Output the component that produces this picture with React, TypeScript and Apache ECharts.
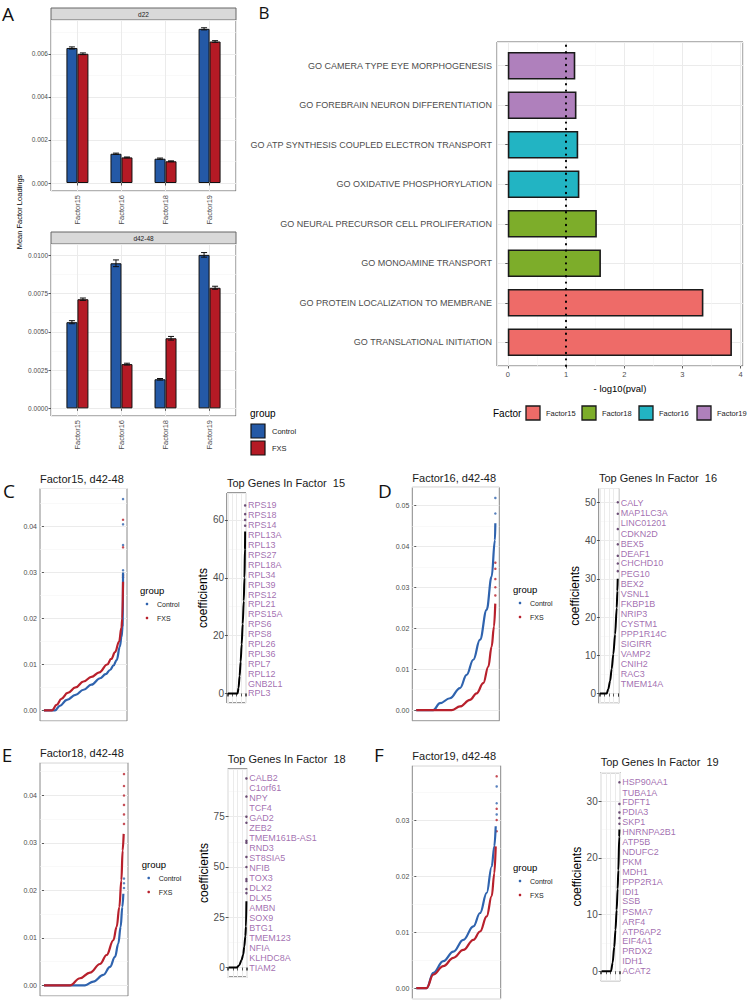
import React, { useEffect, useRef } from 'react';
import * as echarts from 'echarts';

// ---------------- Panel A data ----------------
const factorNames = ['Factor15', 'Factor16', 'Factor18', 'Factor19'];
const d22Control = [0.00628, 0.00136, 0.00113, 0.00717];
const d22ControlSe = [0.00005, 0.00003, 0.00003, 0.00005];
const d22Fxs = [0.00601, 0.00119, 0.00101, 0.00658];
const d22FxsSe = [0.00004, 0.00002, 0.00002, 0.00004];
const d42Control = [0.00563, 0.00948, 0.0019, 0.01003];
const d42ControlSe = [0.0001, 0.00022, 0.00005, 0.00015];
const d42Fxs = [0.00713, 0.00289, 0.00458, 0.00788];
const d42FxsSe = [0.00008, 0.00006, 0.00012, 0.0001];

// ---------------- Panel B data ----------------
const goTerms = [
  'GO CAMERA TYPE EYE MORPHOGENESIS',
  'GO FOREBRAIN NEURON DIFFERENTIATION',
  'GO ATP SYNTHESIS COUPLED ELECTRON TRANSPORT',
  'GO OXIDATIVE PHOSPHORYLATION',
  'GO NEURAL PRECURSOR CELL PROLIFERATION',
  'GO MONOAMINE TRANSPORT',
  'GO PROTEIN LOCALIZATION TO MEMBRANE',
  'GO TRANSLATIONAL INITIATION',
];
const goLog10P = [1.16, 1.18, 1.21, 1.23, 1.53, 1.6, 3.36, 3.85];
const goFactor = ['Factor19', 'Factor19', 'Factor16', 'Factor16', 'Factor18', 'Factor18', 'Factor15', 'Factor15'];
const factorLegendOrder = ['Factor15', 'Factor18', 'Factor16', 'Factor19'];
const pvalThreshold = 1;

// ---------------- Panels C-F: sorted loadings (rank fraction, loading) ----------------
const f15Control = [[0, 0], [0.14, 0], [0.2, 0.001], [0.29, 0.0023], [0.4, 0.0034], [0.5, 0.0045], [0.6, 0.0056], [0.71, 0.007], [0.78, 0.0079], [0.835, 0.0088], [0.88, 0.0098], [0.92, 0.011], [0.96, 0.0139], [0.98, 0.016], [0.995, 0.0183], [1, 0.03]];
const f15ControlTop = [[1, 0.0305], [1, 0.036], [1, 0.0405], [1, 0.046]];
const f15Fxs = [[0, 0], [0.1, 0], [0.16, 0.0012], [0.22, 0.0025], [0.3, 0.0038], [0.4, 0.005], [0.5, 0.0063], [0.6, 0.0073], [0.7, 0.0083], [0.8, 0.01], [0.85, 0.0112], [0.9, 0.0127], [0.95, 0.015], [0.98, 0.018], [0.99, 0.02], [1, 0.028]];
const f15FxsTop = [[1, 0.029], [1, 0.0295], [1, 0.0355], [1, 0.0415]];

const f16Control = [[0, 0], [0.215, 0], [0.3, 0.0017], [0.426, 0.0029], [0.553, 0.0054], [0.637, 0.0086], [0.721, 0.0123], [0.806, 0.0172], [0.89, 0.0245], [0.953, 0.0326], [0.995, 0.0415], [1, 0.0456]];
const f16ControlTop = [[1, 0.048], [1, 0.0518]];
const f16Fxs = [[0, 0], [0.447, 0], [0.553, 0.0009], [0.679, 0.0025], [0.763, 0.0041], [0.848, 0.0066], [0.911, 0.0106], [0.953, 0.0155], [0.983, 0.0204], [0.999, 0.026]];
const f16FxsTop = [[1, 0.028], [1, 0.03], [1, 0.032], [1, 0.0345], [1, 0.036]];

const f18Control = [[0, 0], [0.5125, 0], [0.617, 0.0008], [0.742, 0.0022], [0.825, 0.0039], [0.8875, 0.006], [0.929, 0.0088], [0.958, 0.0123], [0.979, 0.0165], [0.992, 0.0193]];
const f18ControlTop = [[1, 0.0205], [1, 0.0215], [1, 0.0225]];
const f18Fxs = [[0, 0], [0.325, 0], [0.45, 0.0015], [0.575, 0.0027], [0.7, 0.0045], [0.783, 0.0064], [0.867, 0.0095], [0.908, 0.0123], [0.942, 0.0165], [0.967, 0.0221], [0.983, 0.0284], [0.996, 0.0319]];
const f18FxsTop = [[1, 0.034], [1, 0.036], [1, 0.038], [1, 0.04], [1, 0.042], [1, 0.0445]];

const f19Control = [[0, 0], [0.128, 0], [0.211, 0.0027], [0.336, 0.0048], [0.461, 0.0065], [0.585, 0.0086], [0.71, 0.011], [0.793, 0.0134], [0.876, 0.017], [0.938, 0.0217], [0.971, 0.0253], [0.988, 0.0289]];
const f19ControlTop = [[1, 0.031], [1, 0.033], [1, 0.036]];
const f19Fxs = [[0, 0], [0.128, 0], [0.211, 0.0024], [0.336, 0.0039], [0.461, 0.0054], [0.585, 0.0068], [0.71, 0.0086], [0.793, 0.0101], [0.876, 0.0128], [0.938, 0.0164], [0.971, 0.0205], [0.988, 0.0253]];
const f19FxsTop = [[1, 0.028], [1, 0.03], [1, 0.032], [1, 0.0378]];

// ---------------- Top-gene coefficient curves ----------------
const coef15Curve = [[0, 0], [0.56, 0], [0.62, 2], [0.68, 6], [0.74, 11], [0.8, 17], [0.86, 24], [0.92, 32], [0.96, 40], [0.99, 50], [1, 56]];
const coef15Top = [58, 60, 62, 65];
const coef16Curve = [[0, 0], [0.38, 0], [0.47, 1.2], [0.57, 3.3], [0.66, 6.5], [0.75, 10.3], [0.85, 15.5], [0.94, 22.4], [0.975, 26.8], [0.995, 30]];
const coef16Top = [32, 34, 36, 39, 43, 47, 50];
const coef18Curve = [[0, 0], [0.45, 0], [0.6, 1.2], [0.73, 3.8], [0.82, 6.5], [0.88, 10.4], [0.94, 15.5], [0.975, 20.4], [1, 33]];
const coef18Top = [37, 39, 43, 44, 50, 55, 62, 63, 72, 75, 85, 94];
const coef19Curve = [[0, 0], [0.53, 0], [0.62, 1.5], [0.71, 4.3], [0.78, 7.3], [0.845, 10.8], [0.9, 14.5], [0.94, 17.8], [0.99, 23.7], [1, 25]];
const coef19Top = [26, 27, 28, 29.5, 33.3];

const genes15 = ['RPS19', 'RPS18', 'RPS14', 'RPL13A', 'RPL13', 'RPS27', 'RPL18A', 'RPL34', 'RPL39', 'RPS12', 'RPL21', 'RPS15A', 'RPS6', 'RPS8', 'RPL26', 'RPL36', 'RPL7', 'RPL12', 'GNB2L1', 'RPL3'];
const genes15LabelY = [65.0, 61.6, 58.1, 54.7, 51.3, 47.9, 44.5, 41.0, 37.6, 34.2, 30.8, 27.4, 23.9, 20.5, 17.1, 13.7, 10.3, 6.8, 3.4, 0];
const genes16 = ['CALY', 'MAP1LC3A', 'LINC01201', 'CDKN2D', 'BEX5', 'DEAF1', 'CHCHD10', 'PEG10', 'BEX2', 'VSNL1', 'FKBP1B', 'NRIP3', 'CYSTM1', 'PPP1R14C', 'SIGIRR', 'VAMP2', 'CNIH2', 'RAC3', 'TMEM14A'];
const genes16LabelY = [49.7, 47.1, 44.5, 41.8, 39.2, 36.6, 34.0, 31.3, 28.7, 26.1, 23.5, 20.8, 18.2, 15.6, 13.0, 10.3, 7.7, 5.1, 2.5];
const genes18 = ['CALB2', 'C1orf61', 'NPY', 'TCF4', 'GAD2', 'ZEB2', 'TMEM161B-AS1', 'RND3', 'ST8SIA5', 'NFIB', 'TOX3', 'DLX2', 'DLX5', 'AMBN', 'SOX9', 'BTG1', 'TMEM123', 'NFIA', 'KLHDC8A', 'TIAM2'];
const genes18LabelY = [94.0, 89.1, 84.1, 79.2, 74.2, 69.3, 64.3, 59.4, 54.4, 49.5, 44.5, 39.6, 34.6, 29.7, 24.7, 19.8, 14.8, 9.9, 4.9, 0];
const genes19 = ['HSP90AA1', 'TUBA1A', 'FDFT1', 'PDIA3', 'SKP1', 'HNRNPA2B1', 'ATP5B', 'NDUFC2', 'PKM', 'MDH1', 'PPP2R1A', 'IDI1', 'SSB', 'PSMA7', 'ARF4', 'ATP6AP2', 'EIF4A1', 'PRDX2', 'IDH1', 'ACAT2'];
const genes19LabelY = [33.3, 31.5, 29.8, 28.0, 26.3, 24.5, 22.8, 21.0, 19.3, 17.5, 15.8, 14.0, 12.3, 10.5, 8.76, 7.0, 5.26, 3.5, 1.75, 0];

// ---------------- styles ----------------
const BLUE = '#2459A6';
const RED = '#B41A25';
const DOT_BLUE = '#2F63AE';
const DOT_RED = '#B8202C';
const GRID_MAJOR = '#EBEBEB';
const GRID_MINOR = '#F5F5F5';
const LABEL = '#4D4D4D';
const GENE = '#8B4A9C';
const FONT = 'Liberation Sans, Arial, sans-serif';
const LETTER_FONT = 'Open Sans, Liberation Sans, sans-serif';
const factorColors: Record<string, string> = {
  Factor15: '#EE6B68',
  Factor18: '#7DAD2A',
  Factor16: '#22B4C3',
  Factor19: '#AF80BC',
};

function buildOption() {
  const grid: any[] = [];
  const xAxis: any[] = [];
  const yAxis: any[] = [];
  const series: any[] = [];
  const graphic: any[] = [];

  const add = (g: any, x: any, y: any) => {
    const i = grid.length;
    grid.push(g);
    xAxis.push({ gridIndex: i, ...x });
    yAxis.push({ gridIndex: i, ...y });
    return i;
  };
  const text = (x: number, y: number, t: string, o: any = {}, extra: any = {}) =>
    graphic.push({
      type: 'text', x, y, silent: true, ...extra,
      style: { text: t, fontFamily: FONT, fontSize: 8, fill: '#1A1A1A', align: 'left', verticalAlign: 'middle', ...o },
    });
  const rect = (x: number, y: number, w: number, h: number, style: any) =>
    graphic.push({ type: 'rect', silent: true, shape: { x, y, width: w, height: h }, style });
  const circle = (x: number, y: number, r: number, fill: string) =>
    graphic.push({ type: 'circle', silent: true, shape: { cx: x, cy: y, r }, style: { fill } });

  const ticks = { show: true, length: 2.5, lineStyle: { color: '#333', width: 0.8 } };

  // ---------- Panel A ----------
  const errSeries = (gi: number, means: number[], ses: number[], offset: number) => ({
    type: 'custom', xAxisIndex: gi, yAxisIndex: gi, z: 4, silent: true,
    data: means.map((m, i) => [i, m - ses[i], m + ses[i]]),
    renderItem: (_p: any, api: any) => {
      const lo = api.coord([api.value(0), api.value(1)]);
      const hi = api.coord([api.value(0), api.value(2)]);
      const x = lo[0] + offset;
      const w = 3;
      const st = { stroke: '#111', lineWidth: 1 };
      return {
        type: 'group',
        children: [
          { type: 'line', shape: { x1: x, y1: lo[1], x2: x, y2: hi[1] }, style: st },
          { type: 'line', shape: { x1: x - w, y1: lo[1], x2: x + w, y2: lo[1] }, style: st },
          { type: 'line', shape: { x1: x - w, y1: hi[1], x2: x + w, y2: hi[1] }, style: st },
        ],
      };
    },
  });

  const barPanel = (top: number, height: number, yMin: number, yMax: number, interval: number, digits: number,
    ctrl: number[], ctrlSe: number[], fxs: number[], fxsSe: number[], strip: string) => {
    const left = 51, width = 185;
    const unit = width / 4.2;
    add(
      { left, top, width, height, show: true, borderColor: '#666', borderWidth: 1 },
      { type: 'value', min: 0.4, max: 4.6, minInterval: 1, maxInterval: 1, axisLabel: { show: false }, axisTick: { show: false }, axisLine: { show: false }, splitLine: { show: true, lineStyle: { color: GRID_MAJOR } } },
      {
        type: 'value', min: yMin, max: yMax, minInterval: interval, maxInterval: interval,
        axisLabel: { fontSize: 6.5, color: LABEL, fontFamily: FONT, margin: 3, showMinLabel: false, showMaxLabel: false, formatter: (v: number) => v.toFixed(digits) },
        axisTick: ticks, axisLine: { show: false },
        splitLine: { show: true, lineStyle: { color: GRID_MAJOR } },
        minorTick: { show: false, splitNumber: 2 }, minorSplitLine: { show: true, lineStyle: { color: GRID_MINOR, width: 0.6 } },
      }
    );
    const bi = add(
      { left: left + 0.1 * unit, top, width: 4 * unit, height },
      { type: 'category', data: factorNames, axisLabel: { rotate: 90, fontSize: 7.5, color: LABEL, fontFamily: FONT, margin: 4 }, axisTick: { ...ticks, alignWithLabel: true }, axisLine: { show: false }, splitLine: { show: false } },
      { type: 'value', min: yMin, max: yMax, show: false }
    );
    series.push(
      { type: 'bar', name: 'Control', xAxisIndex: bi, yAxisIndex: bi, data: ctrl, barWidth: 11, barGap: '0%', itemStyle: { color: BLUE, borderColor: '#111', borderWidth: 1 } },
      { type: 'bar', name: 'FXS', xAxisIndex: bi, yAxisIndex: bi, data: fxs, barWidth: 11, barGap: '0%', itemStyle: { color: RED, borderColor: '#111', borderWidth: 1 } },
      errSeries(bi, ctrl, ctrlSe, -5.5),
      errSeries(bi, fxs, fxsSe, 5.5)
    );
    rect(left, top - 12, width, 12, { fill: '#D9D9D9', stroke: '#666', lineWidth: 1 });
    text(left + width / 2, top - 6, strip, { fontSize: 6.5, align: 'center', fill: '#1A1A1A' });
  };

  barPanel(20, 171, -0.000372, 0.007581, 0.002, 3, d22Control, d22ControlSe, d22Fxs, d22FxsSe, 'd22');
  barPanel(244, 172, -0.0005, 0.01074, 0.0025, 4, d42Control, d42ControlSe, d42Fxs, d42FxsSe, 'd42-48');
  text(19, 212, 'Mean Factor Loadings', { fontSize: 7.5, align: 'center', fill: '#000' }, { rotation: Math.PI / 2 });

  // group legend (panel A)
  text(250, 413, 'group', { fontSize: 10, fill: '#000' });
  rect(251, 424, 14, 14, { fill: BLUE, stroke: '#111', lineWidth: 1.2 });
  rect(251, 441, 14, 14, { fill: RED, stroke: '#111', lineWidth: 1.2 });
  text(272, 431, 'Control', { fontSize: 7.5 });
  text(272, 448, 'FXS', { fontSize: 7.5 });

  // ---------- Panel B ----------
  const bLeft = 497, bTop = 42, bW = 246, bH = 324;
  const band = bH / 8.2;
  const bf = add(
    { left: bLeft, top: bTop, width: bW, height: bH, show: true, borderColor: '#666', borderWidth: 1 },
    {
      type: 'value', min: -0.185, max: 4.04, minInterval: 1, maxInterval: 1,
      axisLabel: { fontSize: 7.5, color: LABEL, fontFamily: FONT, margin: 4, showMinLabel: false, showMaxLabel: false },
      axisTick: ticks, axisLine: { show: false },
      splitLine: { show: true, lineStyle: { color: GRID_MAJOR } },
      minorTick: { show: false, splitNumber: 2 }, minorSplitLine: { show: true, lineStyle: { color: GRID_MINOR, width: 0.6 } },
      name: '- log10(pval)', nameLocation: 'middle', nameGap: 17, nameTextStyle: { fontSize: 9.5, color: '#000', fontFamily: FONT },
    },
    { type: 'value', min: 0.4, max: 8.6, minInterval: 1, maxInterval: 1, axisLabel: { show: false }, axisTick: { show: false }, axisLine: { show: false }, splitLine: { show: true, lineStyle: { color: GRID_MAJOR } } }
  );
  const bb = add(
    { left: bLeft, top: bTop + 0.1 * band, width: bW, height: 8 * band },
    { type: 'value', min: -0.185, max: 4.04, show: false },
    { type: 'category', data: goTerms, inverse: true, axisLabel: { fontSize: 9, color: LABEL, fontFamily: FONT, margin: 5 }, axisTick: { ...ticks, alignWithLabel: true }, axisLine: { show: false }, splitLine: { show: false } }
  );
  series.push({
    type: 'bar', xAxisIndex: bb, yAxisIndex: bb, barWidth: 0.7 * band,
    data: goLog10P.map((v, i) => ({ value: v, itemStyle: { color: factorColors[goFactor[i]] } })),
    itemStyle: { borderColor: '#1A1A1A', borderWidth: 1.6 },
  });
  series.push({
    type: 'line', xAxisIndex: bf, yAxisIndex: bf, z: 6, silent: true, symbol: 'none',
    data: [[pvalThreshold, 0.4], [pvalThreshold, 8.6]],
    lineStyle: { color: '#000', width: 2, type: [0.4, 6], cap: 'round' },
  });
  text(493, 413, 'Factor', { fontSize: 10, fill: '#000' });
  const legX = [526, 582, 639, 697];
  factorLegendOrder.forEach((f, i) => {
    rect(legX[i], 406, 14, 14, { fill: factorColors[f], stroke: '#1A1A1A', lineWidth: 1.3 });
    text(legX[i] + 20, 413, f, { fontSize: 7.5 });
  });

  // ---------- Panels C-F ----------
  const panels = [
    {
      letter: 'C', letterPos: [9, 491], title: 'Factor15, d42-48', g: { left: 40, top: 488.5, width: 87, height: 232.5 }, yMin: -0.0023, yMax: 0.0483,
      ctrl: f15Control, ctrlTop: f15ControlTop, fxs: f15Fxs, fxsTop: f15FxsTop, leg: [140, 590],
      cg: { left: 227, top: 493, width: 19, height: 210 }, cMin: -3.3, cMax: 69.3, cInt: 20,
      curve: coef15Curve, top: coef15Top, genes: genes15, geneY: genes15LabelY, cTitle: 'Top Genes In Factor  15',
    },
    {
      letter: 'D', letterPos: [385, 491], title: 'Factor16, d42-48', g: { left: 412.3, top: 487.3, width: 87, height: 233.5 }, yMin: -0.0026, yMax: 0.0544,
      ctrl: f16Control, ctrlTop: f16ControlTop, fxs: f16Fxs, fxsTop: f16FxsTop, leg: [513, 589],
      cg: { left: 599, top: 488.5, width: 19.7, height: 214.8 }, cMin: -2.55, cMax: 53.6, cInt: 10,
      curve: coef16Curve, top: coef16Top, genes: genes16, geneY: genes16LabelY, cTitle: 'Top Genes In Factor  16',
    },
    {
      letter: 'E', letterPos: [7, 755], title: 'Factor18, d42-48', g: { left: 40, top: 762.7, width: 88, height: 233.3 }, yMin: -0.00224, yMax: 0.0469,
      ctrl: f18Control, ctrlTop: f18ControlTop, fxs: f18Fxs, fxsTop: f18FxsTop, leg: [141.7, 864],
      cg: { left: 227.7, top: 769, width: 19.6, height: 208 }, cMin: -4.7, cMax: 98.7, cInt: 25,
      curve: coef18Curve, top: coef18Top, genes: genes18, geneY: genes18LabelY, cTitle: 'Top Genes In Factor  18',
    },
    {
      letter: 'F', letterPos: [379, 755], title: 'Factor19, d42-48', g: { left: 412.3, top: 765.7, width: 88.4, height: 233 }, yMin: -0.0019, yMax: 0.0397,
      ctrl: f19Control, ctrlTop: f19ControlTop, fxs: f19Fxs, fxsTop: f19FxsTop, leg: [513, 867],
      cg: { left: 600.7, top: 772.7, width: 19.6, height: 208 }, cMin: -1.67, cMax: 35, cInt: 10,
      curve: coef19Curve, top: coef19Top, genes: genes19, geneY: genes19LabelY, cTitle: 'Top Genes In Factor  19',
    },
  ];

  panels.forEach((p) => {
    const si = add(
      { ...p.g, show: true, borderColor: '#888', borderWidth: 1 },
      { type: 'value', min: -0.05, max: 1.05, axisLabel: { show: false }, axisTick: { show: false }, axisLine: { show: false }, splitLine: { show: false } },
      {
        type: 'value', min: p.yMin, max: p.yMax, minInterval: 0.01, maxInterval: 0.01,
        axisLabel: { fontSize: 7, color: LABEL, fontFamily: FONT, margin: 3, showMinLabel: false, showMaxLabel: false, formatter: (v: number) => v.toFixed(2) },
        axisTick: { ...ticks, length: 2 }, axisLine: { show: false },
        splitLine: { show: true, lineStyle: { color: GRID_MAJOR } },
        minorTick: { show: false, splitNumber: 2 }, minorSplitLine: { show: true, lineStyle: { color: GRID_MINOR, width: 0.6 } },
      }
    );
    series.push(
      { type: 'line', name: 'Control', xAxisIndex: si, yAxisIndex: si, data: p.ctrl, smooth: 0.4, smoothMonotone: 'x', showSymbol: false, symbol: 'none', silent: true, lineStyle: { color: DOT_BLUE, width: 2.2 } },
      { type: 'scatter', xAxisIndex: si, yAxisIndex: si, data: p.ctrlTop, symbolSize: 2.5, silent: true, itemStyle: { color: DOT_BLUE } },
      { type: 'line', name: 'FXS', xAxisIndex: si, yAxisIndex: si, data: p.fxs, smooth: 0.4, smoothMonotone: 'x', showSymbol: false, symbol: 'none', silent: true, lineStyle: { color: DOT_RED, width: 2.2 } },
      { type: 'scatter', xAxisIndex: si, yAxisIndex: si, data: p.fxsTop, symbolSize: 2.5, silent: true, itemStyle: { color: DOT_RED } }
    );
    text(p.g.left, p.g.top - 9.5, p.title, { fontSize: 11, fill: '#1A1A1A' });
    text(p.letterPos[0], p.letterPos[1], p.letter, { fontSize: 19, align: 'center', fill: '#111', fontFamily: LETTER_FONT });

    // group legend
    const [lx, ly] = p.leg;
    text(lx, ly, 'group', { fontSize: 9.5, fill: '#000' });
    circle(lx + 7, ly + 14, 1.3, DOT_BLUE);
    circle(lx + 7, ly + 28, 1.3, DOT_RED);
    text(lx + 17, ly + 14, 'Control', { fontSize: 7 });
    text(lx + 17, ly + 28, 'FXS', { fontSize: 7 });

    // coefficient plot
    const ci = add(
      { ...p.cg, show: true, borderColor: '#333', borderWidth: 1 },
      { type: 'value', min: -0.05, max: 1.05, minInterval: 0.25, maxInterval: 0.25, axisLabel: { show: false }, axisTick: { ...ticks, length: 3 }, axisLine: { show: false }, splitLine: { show: true, lineStyle: { color: GRID_MAJOR } } },
      {
        type: 'value', min: p.cMin, max: p.cMax, minInterval: p.cInt, maxInterval: p.cInt,
        axisLabel: { fontSize: 10, color: LABEL, fontFamily: FONT, margin: 3, showMinLabel: false, showMaxLabel: false },
        axisTick: { ...ticks, length: 3 }, axisLine: { show: false },
        splitLine: { show: true, lineStyle: { color: GRID_MAJOR } },
        minorTick: { show: false, splitNumber: 2 }, minorSplitLine: { show: true, lineStyle: { color: GRID_MINOR, width: 0.6 } },
        name: 'coefficients', nameLocation: 'middle', nameGap: 16, nameTextStyle: { fontSize: 12, color: '#000', fontFamily: FONT },
      }
    );
    series.push(
      { type: 'line', xAxisIndex: ci, yAxisIndex: ci, data: p.curve, smooth: 0.3, smoothMonotone: 'x', showSymbol: false, symbol: 'none', silent: true, lineStyle: { color: '#000', width: 2 } },
      { type: 'scatter', xAxisIndex: ci, yAxisIndex: ci, data: p.top.map((v) => [1, v]), symbolSize: 2.5, silent: true, itemStyle: { color: '#4A2455' } },
      {
        type: 'scatter', xAxisIndex: ci, yAxisIndex: ci, symbolSize: 0, silent: true, clip: false,
        data: p.genes.map((g, i) => ({ value: [1.05, p.geneY[i]], name: g })),
        label: { show: true, position: 'right', distance: 2, formatter: '{b}', fontSize: 9, color: GENE, fontFamily: FONT },
      }
    );
    text(p.cg.left, p.cg.top - 10.5, p.cTitle, { fontSize: 11, fill: '#1A1A1A' });
  });

  // panel letters A, B
  text(8, 14, 'A', { fontSize: 19, align: 'center', fill: '#111', fontFamily: LETTER_FONT });
  text(264, 12, 'B', { fontSize: 17, align: 'center', fill: '#111', fontFamily: LETTER_FONT });

  return {
    animation: false,
    backgroundColor: '#ffffff',
    textStyle: { fontFamily: FONT },
    grid,
    xAxis,
    yAxis,
    series,
    graphic,
  };
}

export default function App() {
  const ref = useRef<HTMLDivElement>(null);
  useEffect(() => {
    if (!ref.current) return;
    const chart = echarts.init(ref.current, undefined, { renderer: 'svg' });
    chart.setOption(buildOption() as any);
    return () => chart.dispose();
  }, []);
  return <div ref={ref} style={{ position: 'absolute', left: 0, top: 0, width: 749, height: 1001 }} />;
}
